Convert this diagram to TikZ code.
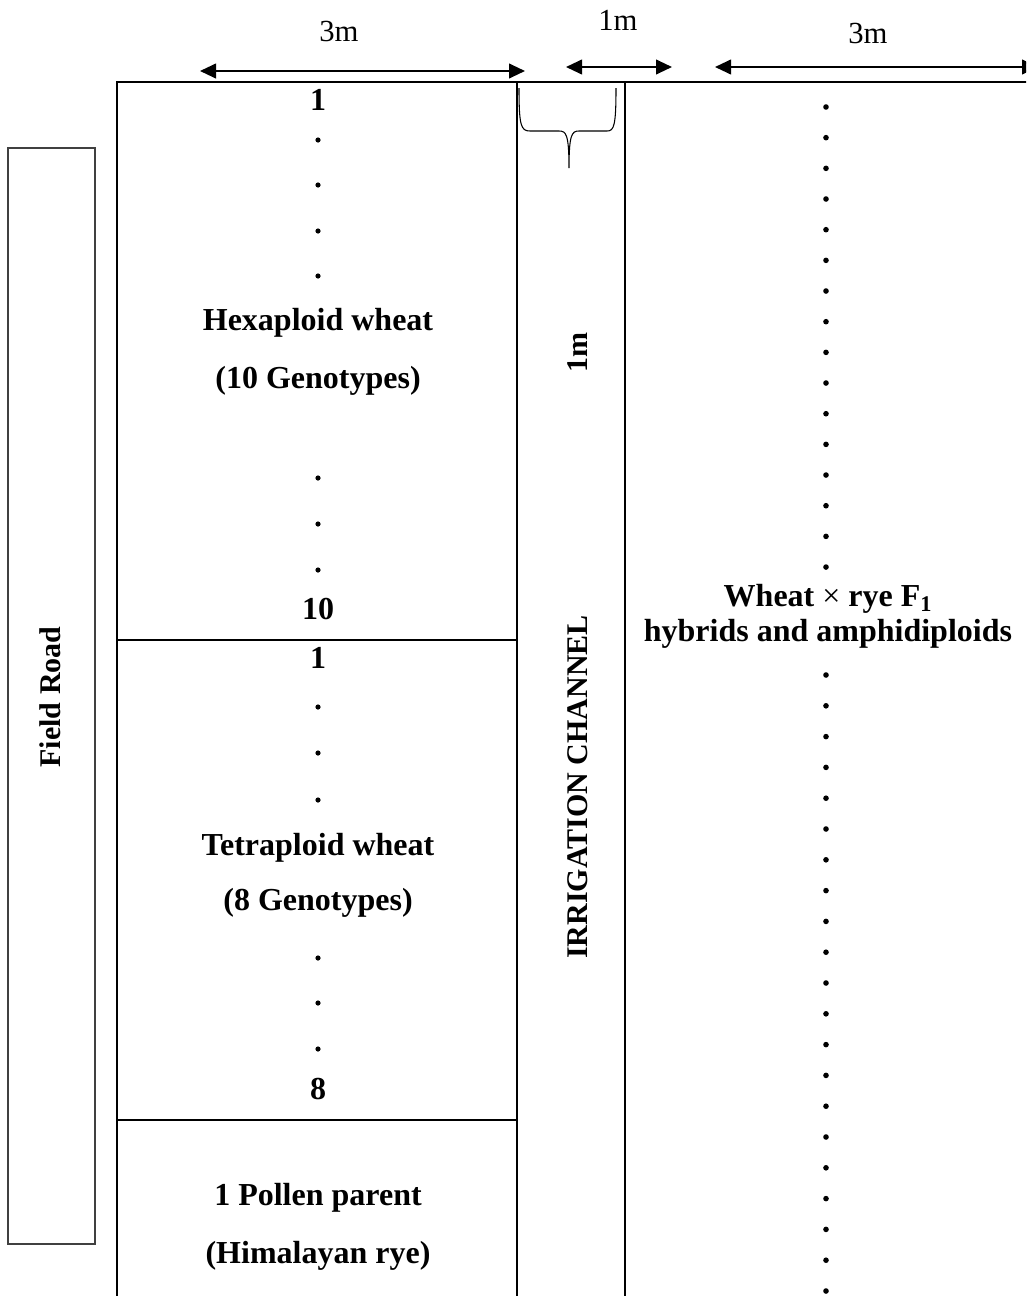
\documentclass[tikz,border=0pt]{standalone}
\usepackage{fontspec}
\setmainfont{Liberation Serif}
\usetikzlibrary{arrows.meta}
\tikzset{
  wall/.style={line width=1.6pt, black},
  roadbox/.style={line width=1pt, black!75},
  dimarrow/.style={line width=1.5pt, {Triangle[length=12pt,width=11pt]}-{Triangle[length=12pt,width=11pt]}},
  lbl/.style={font=\fontsize{24pt}{27pt}\selectfont\bfseries, inner sep=0pt, text height=0.68em, text depth=0.2em, align=center, yshift=-4.5pt},
  dimlbl/.style={font=\fontsize{23pt}{26pt}\selectfont, inner sep=0pt},
  rotlbl/.style={font=\fontsize{22.5pt}{26pt}\selectfont\bfseries, inner sep=0pt, rotate=90},
  dotmark/.style={fill=black, draw=none},
  bracestyle/.style={line width=0.8pt, black}
}
\begin{document}
\begin{tikzpicture}[x=0.75pt,y=-0.75pt]
\useasboundingbox (0,0) rectangle (1026,1296);
\clip (0,0) rectangle (1026,1296);
% field road
\draw[roadbox] (8,148) rectangle (95,1244);
\node[rotlbl] (road) at (50,697) {Field Road};
% plot outline
\draw[wall] (117,1300) -- (117,82) -- (1030,82);
\draw[wall] (517,82) -- (517,1300);
\draw[wall] (625,82) -- (625,1300);
\draw[wall] (117,640) -- (517,640);
\draw[wall] (117,1120) -- (517,1120);
% dimension arrows
\coordinate (a1) at (200,71); \coordinate (a2) at (525,71);
\coordinate (b1) at (566,67); \coordinate (b2) at (672,67);
\coordinate (c1) at (715,67); \coordinate (c2) at (1038,67);
\draw[dimarrow] (a1) -- (a2);
\draw[dimarrow] (b1) -- (b2);
\draw[dimarrow] (c1) -- (c2);
\node[dimlbl] (d1) at (339,31) {3m};
\node[dimlbl] (d2) at (618,20) {1m};
\node[dimlbl] (d3) at (868,33) {3m};
% brace in channel
\draw[bracestyle] (519,88) .. controls (519,126) and (521,131) .. (530,131) -- (559,131)
  .. controls (566,131) and (569,134) .. (569,168)
  .. controls (569,134) and (572,131) .. (579,131) -- (607,131)
  .. controls (614,131) and (616,126) .. (616,88);
\node[rotlbl] (ch1m) at (578,352) {1m};
\node[rotlbl] (chan) at (578,787) {IRRIGATION CHANNEL};
% hexaploid block
\node[lbl] (h1) at (318,101) {1};
\foreach \y in {140,185,231,276,478,524,570} \fill[dotmark] (318,\y) circle[radius=2.6];
\node[lbl] (hex) at (318,321) {Hexaploid wheat};
\node[lbl] (hexg) at (318,379) {(10 Genotypes)};
\node[lbl] (h10) at (318,610) {10};
% tetraploid block
\node[lbl] (t1) at (318,659) {1};
\foreach \y in {707,753,800,958,1003,1049} \fill[dotmark] (318,\y) circle[radius=2.6];
\node[lbl] (tet) at (318,846) {Tetraploid wheat};
\node[lbl] (tetg) at (318,901) {(8 Genotypes)};
\node[lbl] (t8) at (318,1090) {8};
% rye block
\node[lbl] (rye) at (318,1196) {1 Pollen parent};
\node[lbl] (ryeg) at (318,1254) {(Himalayan rye)};
% right block
\foreach \i in {0,...,15} \fill[dotmark] (826,107+30.67*\i) circle[radius=2.8];
\node[lbl] (wr) at (828,597) {Wheat {\mdseries ×} rye F\textsubscript{1}};
\node[lbl] (wr2) at (828,632) {hybrids and amphidiploids};
\foreach \i in {0,...,20} \fill[dotmark] (826,675+30.8*\i) circle[radius=2.8];
\end{tikzpicture}
\end{document}
